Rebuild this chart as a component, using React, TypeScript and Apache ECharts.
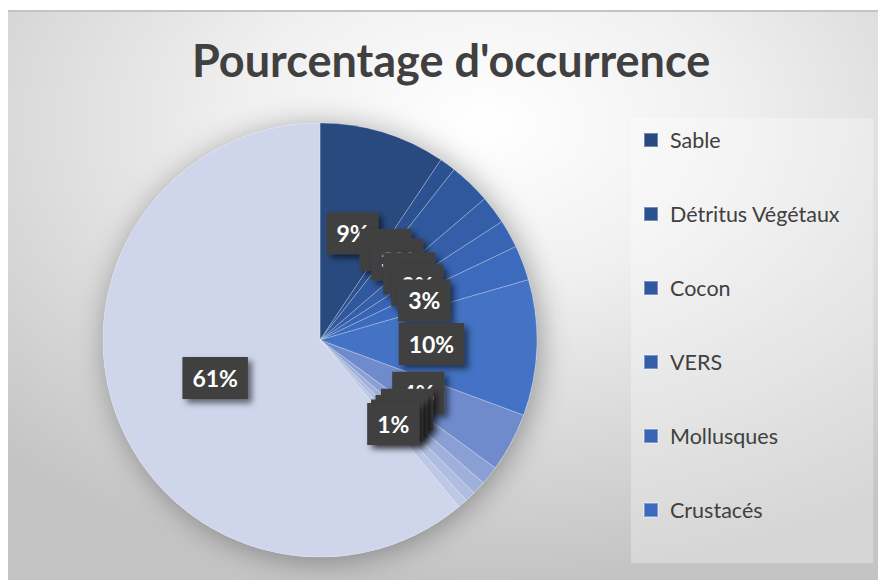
import React, { useEffect, useRef } from "react";
import * as echarts from "echarts";

const titleText = "Pourcentage d'occurrence";
const categories = [
  "Sable",
  "Détritus Végétaux",
  "Cocon",
  "VERS",
  "Mollusques",
  "Crustacés",
  "Catégorie 7",
  "Catégorie 8",
  "Catégorie 9",
  "Catégorie 10",
  "Catégorie 11",
  "Catégorie 12",
  "Catégorie 13",
];
const values = [9.4, 1.2, 3.1, 2.1, 2.1, 2.6, 10.1, 4.4, 1.4, 1.0, 0.8, 0.7, 61.0];
const legendNames = ["Sable", "Détritus Végétaux", "Cocon", "VERS", "Mollusques", "Crustacés"];
const colors = [
  "#294a7f",
  "#2c5190",
  "#30589d",
  "#345ea8",
  "#3864b3",
  "#3c6abd",
  "#4472c4",
  "#6f8bcc",
  "#8a9fd4",
  "#9fb0da",
  "#afbde0",
  "#bdc8e6",
  "#cfd5eb",
];

export default function App() {
  const ref = useRef<HTMLDivElement>(null);
  useEffect(() => {
    if (!ref.current) return;
    const chart = echarts.init(ref.current, undefined, { renderer: "svg" });
    const data = categories.map((name, i) => ({
      name,
      value: values[i],
      itemStyle: { color: colors[i] },
    }));
    chart.setOption({
      animation: false,
      backgroundColor: "#ffffff",
      graphic: [
        {
          type: "rect",
          z: -10,
          silent: true,
          shape: { x: 8, y: 10, width: 870, height: 570 },
          style: {
            fill: {
              type: "radial",
              x: 0.55,
              y: 0.2,
              r: 0.8,
              colorStops: [
                { offset: 0, color: "#ffffff" },
                { offset: 0.35, color: "#f0f0f0" },
                { offset: 1, color: "#c4c4c4" },
              ],
            },
          },
        },
        {
          type: "line",
          z: -9,
          silent: true,
          shape: { x1: 8, y1: 11, x2: 878, y2: 11 },
          style: { stroke: "#c4c4c4", lineWidth: 2 },
        },
      ],
      title: {
        text: titleText,
        left: 192,
        top: 37,
        padding: 0,
        textStyle: {
          fontFamily: "Lato",
          fontWeight: "bold",
          fontSize: 45,
          lineHeight: 45,
          color: "#404040",
        },
      },
      legend: {
        data: legendNames,
        orient: "vertical",
        left: 631,
        top: 118,
        padding: [11, 33, 42, 12],
        backgroundColor: "rgba(255,255,255,0.3)",
        itemWidth: 14,
        itemHeight: 14,
        itemGap: 52,
        icon: "rect",
        selectedMode: false,
        textStyle: {
          fontFamily: "Lato",
          fontSize: 21.5,
          lineHeight: 20,
          color: "#404040",
          padding: [0, 0, 0, 7],
        },
      },
      series: [
        {
          type: "pie",
          name: "shadow",
          silent: true,
          z: 1,
          center: [320, 340],
          radius: 217,
          label: { show: false },
          labelLine: { show: false },
          itemStyle: {
            color: "#cfd5eb",
            shadowBlur: 30,
            shadowColor: "rgba(0,0,0,0.35)",
            shadowOffsetX: 3,
            shadowOffsetY: 3,
          },
          data: [{ name: "_bg", value: 1 }],
          legendHoverLink: false,
        },
        {
          type: "pie",
          z: 2,
          center: [320, 340],
          radius: 217,
          startAngle: 90,
          clockwise: true,
          avoidLabelOverlap: false,
          labelLayout: { hideOverlap: false },
          itemStyle: {
            borderColor: "rgba(255,255,255,0.35)",
            borderWidth: 0.75,
          },
          label: {
            show: true,
            position: "inside",
            formatter: (p: any) => Math.round(p.percent) + "%",
            color: "#ffffff",
            fontFamily: "Lato",
            fontWeight: "bold",
            fontSize: 23,
            lineHeight: 24,
            backgroundColor: "#404040",
            padding: [9, 10],
            shadowBlur: 6,
            shadowColor: "rgba(0,0,0,0.55)",
            shadowOffsetX: 4,
            shadowOffsetY: 4,
          },
          labelLine: { show: false },
          emphasis: { disabled: true },
          data,
        },
      ],
    });
    return () => chart.dispose();
  }, []);
  return (
    <div
      ref={ref}
      style={{ position: "absolute", left: 0, top: 0, width: 878, height: 580 }}
    />
  );
}
